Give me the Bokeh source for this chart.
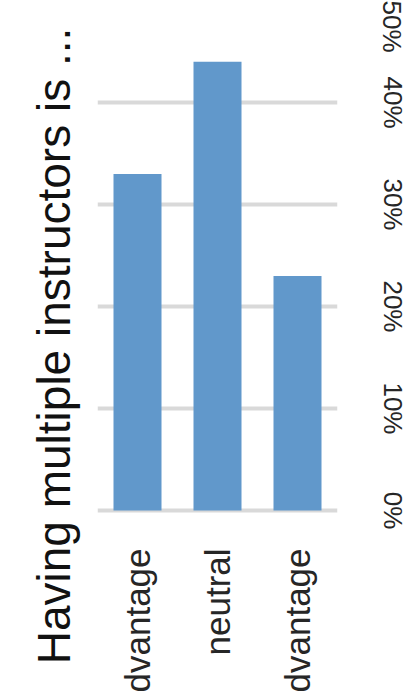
import math
from bokeh.plotting import figure
from bokeh.models import ColumnDataSource, FixedTicker, NumeralTickFormatter, Title, Range1d, FactorRange
from bokeh.core.properties import value
from bokeh.embed import file_html
from bokeh.resources import INLINE

title_text = "Having multiple instructors is ..."
categories = ["an advantage", "neutral", "a disadvantage"]
shares = [0.33, 0.44, 0.23]
tick_values = [0.0, 0.1, 0.2, 0.3, 0.4, 0.5]

FONT = "Liberation Sans"

src = ColumnDataSource(dict(cat=categories, share=shares, base=[0.0] * len(categories)))

p = figure(
    width=411, height=691,
    x_range=FactorRange(*categories, range_padding=0.0),
    y_range=Range1d(-0.1775, 0.5),
    x_axis_location=None, y_axis_location="right",
    output_backend="svg", toolbar_location=None,
    min_border_left=97, min_border_right=74, min_border_top=0, min_border_bottom=0,
)
p.outline_line_color = None
p.background_fill_color = "white"
p.border_fill_color = "white"

p.vbar(x="cat", top="share", bottom=0, width=0.6, source=src,
       fill_color="#6198cb", line_color=None)

p.text(x="cat", y="base", text="cat", source=src, angle=math.pi / 2,
       text_align="right", text_baseline="middle", y_offset=38,
       text_font=value(FONT), text_font_size="35px", text_color="#262626")

ax = p.yaxis[0]
ax.ticker = FixedTicker(ticks=tick_values)
ax.formatter = NumeralTickFormatter(format="0%")
ax.major_label_orientation = "vertical"
ax.major_label_text_font = FONT
ax.major_label_text_font_size = "26px"
ax.major_label_text_color = "#262626"
ax.major_label_standoff = 34
ax.axis_line_color = None
ax.major_tick_line_color = None
ax.minor_tick_line_color = None

p.xgrid.grid_line_color = None
p.ygrid.grid_line_color = "#d9d9d9"
p.ygrid.grid_line_width = 4
p.ygrid.ticker = FixedTicker(ticks=tick_values)

p.add_layout(Title(text=title_text, align="center", text_font=FONT,
                   text_font_size="46px", text_font_style="normal",
                   text_color="#111111", standoff=36), "left")

open("out.html", "w").write(file_html(p, INLINE))
